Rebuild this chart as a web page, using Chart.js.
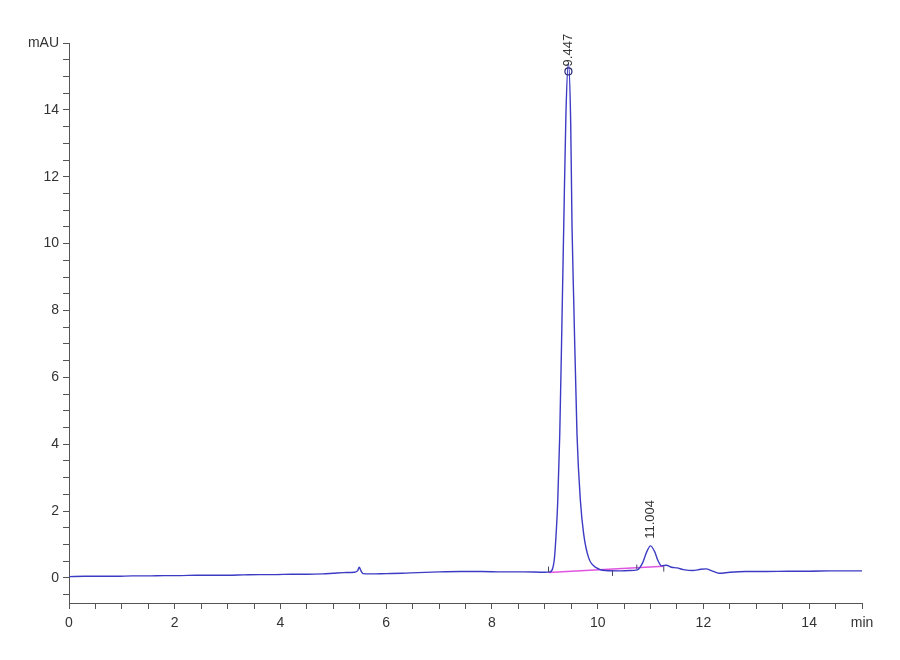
<!DOCTYPE html>
<html>
<head>
<meta charset="utf-8">
<script src="https://cdn.jsdelivr.net/npm/chart.js@4/dist/chart.umd.min.js"></script>
<style>
  html, body { margin: 0; padding: 0; background: #ffffff; }
  #wrap { width: 900px; height: 660px; }
</style>
</head>
<body>
<div id="wrap"><canvas id="c" width="900" height="660"></canvas></div>
<script>
// ---- data ----
const timeMin = [0.00,0.30,0.60,0.90,1.20,1.50,1.80,2.10,2.40,2.70,3.00,3.30,3.60,3.90,4.20,4.50,4.80,5.00,5.20,5.40,5.46,5.49,5.52,5.56,5.70,6.00,6.30,6.60,7.00,7.40,7.80,8.20,8.60,9.00,9.10,9.15,9.18,9.21,9.245,9.283,9.326,9.358,9.40,9.447,9.49,9.515,9.547,9.609,9.674,9.736,9.83,9.98,10.15,10.40,10.60,10.75,10.85,10.92,11.00,11.08,11.14,11.21,11.30,11.40,11.50,11.62,11.80,11.95,12.05,12.15,12.30,12.50,12.80,13.20,13.60,14.00,14.40,14.80,15.00];
const signalMAU = [0.04,0.05,0.05,0.05,0.06,0.06,0.07,0.07,0.08,0.08,0.08,0.09,0.10,0.10,0.11,0.11,0.12,0.14,0.16,0.17,0.22,0.32,0.22,0.13,0.12,0.13,0.14,0.16,0.18,0.19,0.19,0.18,0.18,0.17,0.18,0.29,0.55,1.2,2.3,4.3,7.8,10.5,13.9,15.4,13.6,10.5,8.3,4.3,2.3,1.3,0.6,0.3,0.22,0.21,0.22,0.24,0.45,0.75,0.96,0.78,0.52,0.36,0.38,0.32,0.30,0.25,0.22,0.26,0.27,0.22,0.14,0.17,0.19,0.19,0.20,0.20,0.21,0.21,0.21];

const baselineTime = [9.07, 11.25];
const baselineMAU = [0.16, 0.35];

const markerTime = [9.07, 10.28, 10.74, 11.25];
const markerFromMAU = [0.18, 0.06, 0.27, 0.19];
const markerToMAU = [0.34, 0.22, 0.40, 0.34];

const peakTime = [9.447, 11.004];
const peakTopMAU = [15.15, 0.96];
const peakLabels = ["9.447", "11.004"];

const xTickValues = [];
for (let i = 0; i <= 30; i++) xTickValues.push(i * 0.5);
const yTickValues = [];
for (let i = -1; i <= 32; i++) yTickValues.push(i * 0.5);

// ---- build datasets ----
const traceData = timeMin.map((t, i) => ({ x: t, y: signalMAU[i] }));
const baseData = baselineTime.map((t, i) => ({ x: t, y: baselineMAU[i] }));

const datasets = [
  {
    label: 'signal',
    data: traceData,
    borderColor: '#3b3bc4',
    borderWidth: 1.4,
    pointRadius: 0,
    fill: false,
    cubicInterpolationMode: 'monotone',
    order: 1
  },
  {
    label: 'baseline',
    data: baseData,
    borderColor: '#e055e0',
    borderWidth: 1.5,
    pointRadius: 0,
    fill: false,
    order: 2
  }
];
markerTime.forEach((t, i) => {
  datasets.push({
    label: 'marker' + i,
    data: [{ x: t, y: markerFromMAU[i] }, { x: t, y: markerToMAU[i] }],
    borderColor: '#444466',
    borderWidth: 1,
    pointRadius: 0,
    fill: false,
    order: 0
  });
});

const isEven = v => Math.abs(v / 2 - Math.round(v / 2)) < 1e-9;

const peakLabelPlugin = {
  id: 'peakLabels',
  afterDatasetsDraw(chart) {
    const { ctx, scales } = chart;
    ctx.save();
    peakTime.forEach((t, i) => {
      const px = scales.x.getPixelForValue(t);
      const py = scales.y.getPixelForValue(peakTopMAU[i]);
      if (i === 0) {
        ctx.beginPath();
        ctx.arc(px, py, 3.5, 0, Math.PI * 2);
        ctx.strokeStyle = '#2a2a7a';
        ctx.lineWidth = 1.2;
        ctx.stroke();
      }
      ctx.save();
      ctx.translate(px, py - (i === 0 ? 5 : 7));
      ctx.rotate(-Math.PI / 2);
      ctx.font = '13px "Liberation Sans", Arial, sans-serif';
      ctx.fillStyle = '#333333';
      ctx.textAlign = 'left';
      ctx.textBaseline = 'middle';
      ctx.fillText(peakLabels[i], 0, 0);
      ctx.restore();
    });
    ctx.restore();
  }
};

new Chart(document.getElementById('c'), {
  type: 'line',
  data: { datasets },
  options: {
    responsive: false,
    animation: false,
    devicePixelRatio: 1,
    layout: { padding: { left: 0, right: 38, top: 43, bottom: 0 } },
    plugins: {
      legend: { display: false },
      tooltip: { enabled: false }
    },
    scales: {
      x: {
        type: 'linear',
        min: 0,
        max: 15,
        afterBuildTicks(scale) { scale.ticks = xTickValues.map(v => ({ value: v })); },
        afterFit(scale) { scale.height = 57; },
        grid: { display: true, drawOnChartArea: false, drawTicks: true, tickLength: 6, color: '#555555', lineWidth: 1 },
        border: { display: true, color: '#555555', width: 1 },
        ticks: {
          autoSkip: false,
          maxRotation: 0,
          padding: 6,
          color: '#333333',
          font: { family: '"Liberation Sans", Arial, sans-serif', size: 14 },
          callback: v => (Math.abs(v - 15) < 1e-9 ? 'min' : (isEven(v) ? String(Math.round(v)) : ''))
        }
      },
      y: {
        type: 'linear',
        min: -0.75,
        max: 16,
        afterBuildTicks(scale) { scale.ticks = yTickValues.map(v => ({ value: v })); },
        afterFit(scale) { scale.width = 69; },
        grid: { display: true, drawOnChartArea: false, drawTicks: true, tickLength: 6, color: '#555555', lineWidth: 1 },
        border: { display: true, color: '#555555', width: 1 },
        ticks: {
          autoSkip: false,
          padding: 4,
          color: '#333333',
          font: { family: '"Liberation Sans", Arial, sans-serif', size: 14 },
          callback: v => (Math.abs(v - 16) < 1e-9 ? 'mAU' : (isEven(v) && v >= 0 ? String(Math.round(v)) : ''))
        }
      }
    }
  },
  plugins: [peakLabelPlugin]
});
</script>
</body>
</html>
